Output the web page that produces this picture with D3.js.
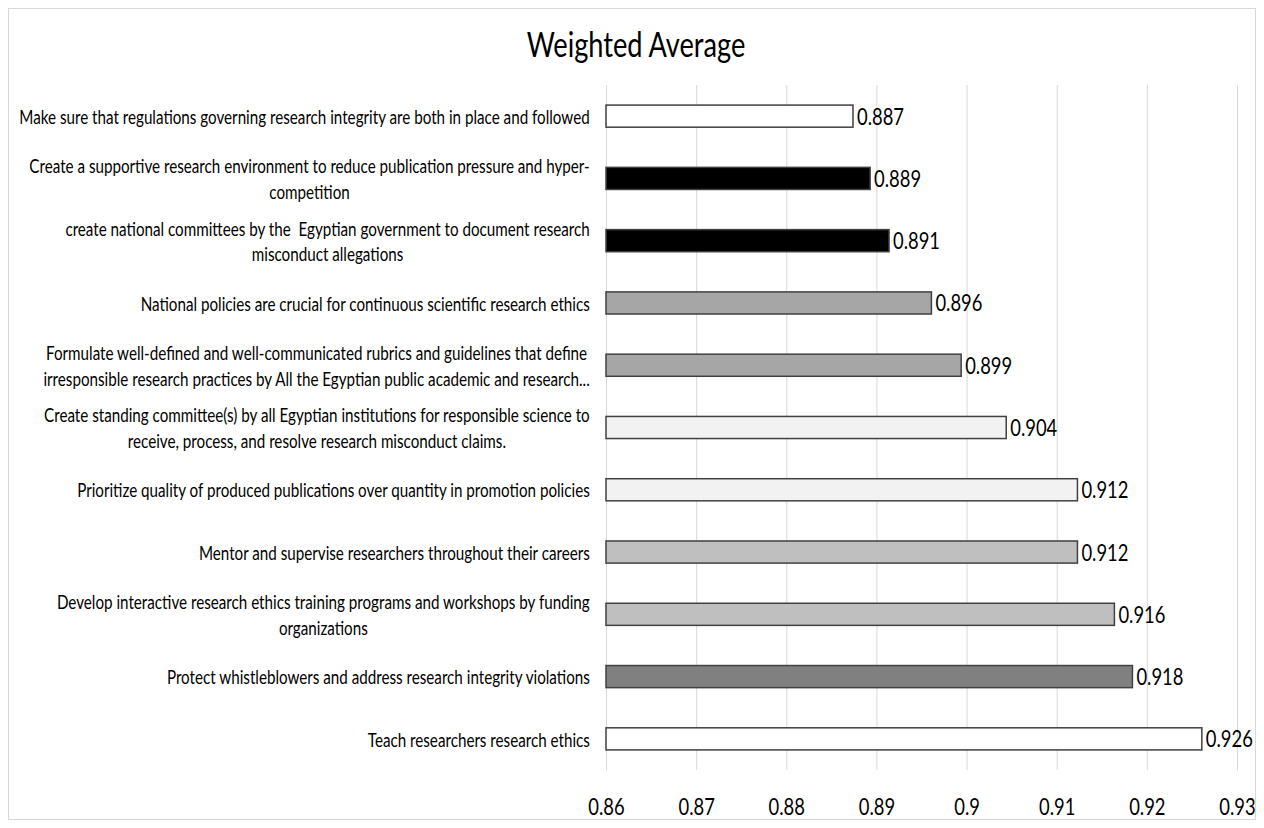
<html>
    <head>
        <meta charset="utf-8">
        <title>Weighted Average</title>
        <style>
        body { margin: 0; background: #fff; }
        text { font-family: Lato, "Open Sans", sans-serif; fill: #000; }
        .grid line { stroke: #d9d9d9; stroke-width: 1px; }
        .grid path { display: none; }
        .bar { stroke: #404040; stroke-width: 1.5px; }
        </style>
    </head>
    <body>
        <script src="https://d3js.org/d3.v7.min.js"></script>
        <script>

            // categories, top to bottom ("\n" = line break in the label)
            var categories = [
                "Make sure that regulations governing research integrity are both in place and followed",
                "Create a supportive research environment to reduce publication pressure and hyper-\ncompetition",
                "create national committees by the  Egyptian government to document research\nmisconduct allegations",
                "National policies are crucial for continuous scientific research ethics",
                "Formulate well-defined and well-communicated rubrics and guidelines that define\nirresponsible research practices by All the Egyptian public academic and research...",
                "Create standing committee(s) by all Egyptian institutions for responsible science to\nreceive, process, and resolve research misconduct claims.",
                "Prioritize quality of produced publications over quantity in promotion policies",
                "Mentor and supervise researchers throughout their careers",
                "Develop interactive research ethics training programs and workshops by funding\norganizations",
                "Protect whistleblowers and address research integrity violations",
                "Teach researchers research ethics"
            ];

            // weighted average values
            var values = [0.8874, 0.8893, 0.8914, 0.8961, 0.8994, 0.9044, 0.9123, 0.9123, 0.9164, 0.9184, 0.9261];

            // x axis tick labels
            var tickValues = [0.86, 0.87, 0.88, 0.89, 0.9, 0.91, 0.92, 0.93];

            // bar fills (one per bar)
            var fills = ["#ffffff", "#000000", "#000000", "#a6a6a6", "#a6a6a6", "#f2f2f2",
                         "#f2f2f2", "#bfbfbf", "#bfbfbf", "#808080", "#ffffff"];

            var W = 1264, H = 828;
            var margin = {top: 85, right: 27, bottom: 58, left: 606},
                width = W - margin.left - margin.right,
                height = H - margin.top - margin.bottom;

            var x = d3.scaleLinear().domain([0.86, 0.93]).range([0, width]);
            var y = d3.scaleBand().domain(d3.range(categories.length)).range([0, height]).paddingInner(0.645).paddingOuter(0.3225);

            var svg = d3.select("body").append("svg")
                .attr("width", W)
                .attr("height", H);

            // outer chart border
            svg.append("rect")
                .attr("x", 8.5).attr("y", 8.5)
                .attr("width", W - 17).attr("height", H - 17)
                .attr("fill", "none")
                .attr("stroke", "#d9d9d9");

            // squeeze a text horizontally about its anchor point, like a narrow font
            function narrow(sel, k) {
                sel.each(function() {
                    var t = d3.select(this);
                    var ax = +t.attr("x") || 0;
                    t.attr("transform", "translate(" + ax + ",0) scale(" + k + ",1) translate(" + (-ax) + ",0)");
                });
            }

            // title
            svg.append("text")
                .attr("x", W / 2 + 4)
                .attr("y", 57)
                .attr("text-anchor", "middle")
                .style("font-size", "34px")
                .text("Weighted Average")
                .call(narrow, 0.8);

            var g = svg.append("g")
                .attr("transform", "translate(" + margin.left + "," + margin.top + ")");

            // gridlines + tick labels
            var axis = g.append("g")
                .attr("class", "grid")
                .attr("transform", "translate(0," + height + ")")
                .call(d3.axisBottom(x)
                    .tickValues(tickValues)
                    .tickSize(-height)
                    .tickPadding(29)
                    .tickFormat(function(d) { return String(+d.toFixed(2)); }));
            axis.selectAll("text")
                .style("font-size", "23px")
                .attr("font-family", null)
                .attr("fill", "#000")
                .call(narrow, 0.8);

            // bars
            g.selectAll(".bar")
                .data(values)
                .enter().append("rect")
                .attr("class", "bar")
                .attr("x", 0)
                .attr("y", function(d, i) { return y(i); })
                .attr("width", function(d) { return x(d); })
                .attr("height", y.bandwidth())
                .attr("fill", function(d, i) { return fills[i]; });

            // value labels
            g.selectAll(".val")
                .data(values)
                .enter().append("text")
                .attr("class", "val")
                .attr("x", function(d) { return x(d) + 4; })
                .attr("y", function(d, i) { return y(i) + y.bandwidth() / 2; })
                .attr("dy", "0.37em")
                .style("font-size", "23px")
                .text(function(d) { return d.toFixed(3); })
                .call(narrow, 0.8);

            // category labels, lines centred on each other, block right-aligned
            var lineH = 25.5;
            var k = 0.8;
            categories.forEach(function(c, i) {
                var lines = c.split("\n");
                var cy = y(i) + y.bandwidth() / 2 + 1;
                var t = g.append("text")
                    .style("font-size", "19px")
                    .attr("text-anchor", "middle")
                    .style("white-space", "pre");
                var spans = lines.map(function(l, j) {
                    return t.append("tspan")
                        .attr("y", cy + (j - (lines.length - 1) / 2) * lineH)
                        .attr("dy", "0.35em")
                        .text(l);
                });
                var maxW = d3.max(spans, function(s) { return s.node().getComputedTextLength(); });
                var cx = -16 - maxW * k / 2;
                spans.forEach(function(s) { s.attr("x", cx); });
                t.attr("x", cx).call(narrow, k);
            });

        </script>
    </body>
</html>
